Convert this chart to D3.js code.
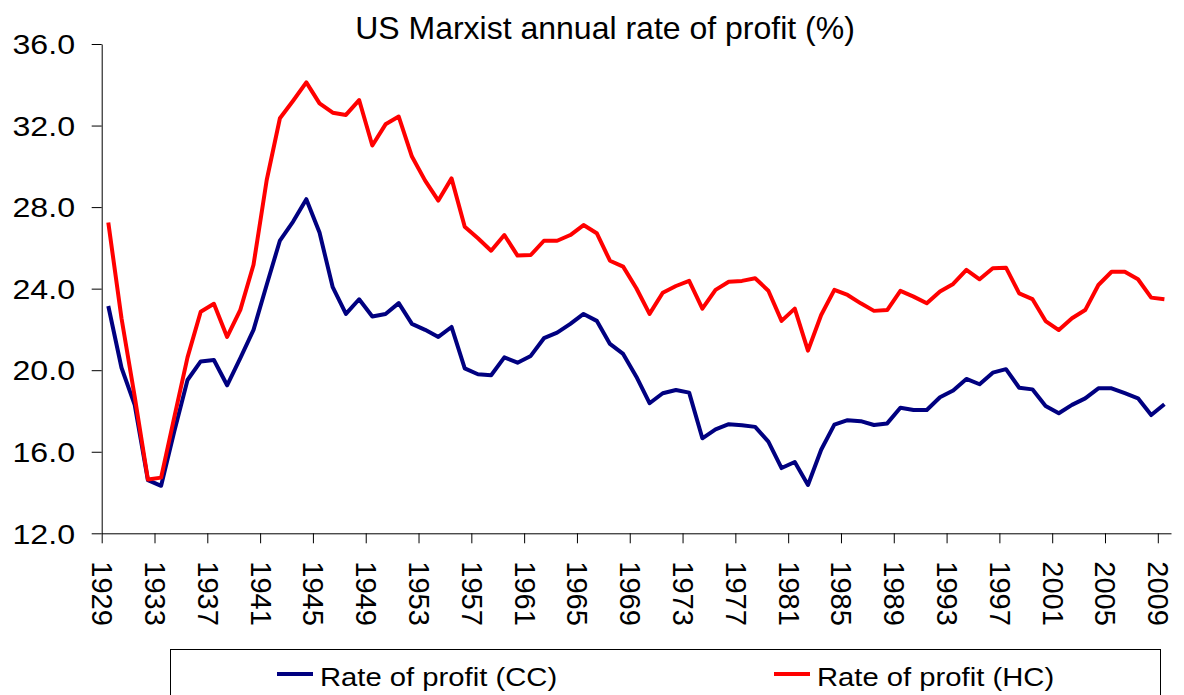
<!DOCTYPE html>
<html>
<head>
<meta charset="utf-8">
<script src="https://cdn.jsdelivr.net/npm/d3@7"></script>
<style>
  body { margin: 0; background: #fff; }
  text { font-family: "Liberation Sans", Arial, sans-serif; fill: #000; }
</style>
</head>
<body>
<script>
// categories and tick labels
var years = d3.range(1929, 2010);
var tickYears = d3.range(1929, 2010, 4);
var yTicks = [12, 16, 20, 24, 28, 32, 36];
var seriesNames = ["Rate of profit (CC)", "Rate of profit (HC)"];
var seriesColors = ["#000080", "#ff0000"];

// series values, 1929 - 2009
var profitCC = [
    23.15, 20.12, 18.30, 14.61, 14.33, 17.00, 19.52, 20.43, 20.50, 19.26,
    20.59, 21.98, 24.19, 26.36, 27.29, 28.39, 26.75, 24.07, 22.76, 23.48,
    22.63, 22.76, 23.29, 22.27, 21.98, 21.63, 22.12, 20.09, 19.80, 19.75,
    20.63, 20.37, 20.70, 21.57, 21.84, 22.27, 22.76, 22.42, 21.29, 20.80,
    19.68, 18.38, 18.87, 19.03, 18.90, 16.66, 17.10, 17.35, 17.30, 17.22,
    16.50, 15.20, 15.50, 14.37, 16.10, 17.33, 17.55, 17.50, 17.31, 17.39,
    18.16, 18.05, 18.05, 18.67, 19.00, 19.57, 19.31, 19.88, 20.05, 19.14,
    19.06, 18.25, 17.89, 18.30, 18.62, 19.11, 19.11, 18.87, 18.62, 17.80,
    18.33
];
var profitHC = [
    27.24, 22.55, 18.70, 14.64, 14.73, 17.70, 20.63, 22.87, 23.26, 21.63,
    22.96, 25.17, 29.33, 32.36, 33.22, 34.12, 33.09, 32.63, 32.52, 33.25,
    31.02, 32.06, 32.44, 30.48, 29.30, 28.32, 29.41, 27.04, 26.47, 25.86,
    26.63, 25.62, 25.65, 26.35, 26.35, 26.63, 27.12, 26.72, 25.37, 25.08,
    24.02, 22.76, 23.80, 24.13, 24.38, 23.02, 23.94, 24.34, 24.38, 24.51,
    23.90, 22.42, 23.02, 20.96, 22.71, 23.94, 23.69, 23.28, 22.91, 22.95,
    23.89, 23.61, 23.28, 23.86, 24.23, 24.92, 24.46, 25.00, 25.03, 23.77,
    23.49, 22.41, 21.97, 22.55, 22.95, 24.18, 24.83, 24.83, 24.46, 23.56,
    23.48
];

var svgWidth = 1184;
var svgHeight = 695;
var plotLeft = 101.7, plotRight = 1171, plotTop = 44, plotBottom = 533.3;
var stretch = 1.19; // the original picture is a bit wider than tall

var svg = d3.select("body")
    .append("svg")
    .attr("width", svgWidth)
    .attr("height", svgHeight);

// category edges: a year sits in the middle of its slot
var xScale = d3.scaleLinear()
    .domain([1929, 2010])
    .range([plotLeft, plotRight]);

var yScale = d3.scaleLinear()
    .domain([12, 36])
    .range([plotBottom, plotTop]);

// title
svg.append("text")
    .attr("x", 605)
    .attr("y", 38.5)
    .attr("text-anchor", "middle")
    .style("font-size", "32px")
    .text("US Marxist annual rate of profit (%)");

// y axis
var yAxis = d3.axisLeft(yScale)
    .tickValues(yTicks)
    .tickFormat(d3.format(".1f"))
    .tickSize(10)
    .tickSizeOuter(0);

svg.append("g")
    .attr("transform", `translate(${plotLeft}, 0)`)
    .call(yAxis)
    .call(g => g.selectAll(".tick text")
        .attr("x", -26.7 / stretch)
        .attr("dy", "0.36em")
        .attr("transform", `scale(${stretch},1)`)
        .style("font-size", "27px")
        .style("font-family", "'Liberation Sans', Arial, sans-serif"));

// x axis
var xAxis = d3.axisBottom(xScale)
    .tickValues(tickYears)
    .tickFormat(d3.format("d"))
    .tickSize(10)
    .tickSizeOuter(0);

svg.append("g")
    .attr("transform", `translate(0, ${plotBottom})`)
    .call(xAxis)
    .call(g => g.selectAll(".tick text")
        .attr("y", null)
        .attr("dy", null)
        .attr("text-anchor", "start")
        .attr("dominant-baseline", "central")
        .attr("transform", "translate(0,28) rotate(90)")
        .style("font-size", "29px")
        .style("font-family", "'Liberation Sans', Arial, sans-serif"));

// lines
var line = d3.line()
    .x((d, i) => xScale(years[i] + 0.5))
    .y(d => yScale(d));

[profitCC, profitHC].forEach(function (vals, k) {
    svg.append("path")
        .datum(vals)
        .attr("fill", "none")
        .attr("stroke", seriesColors[k])
        .attr("stroke-width", 4)
        .attr("stroke-linejoin", "round")
        .attr("d", line);
});

// legend
svg.append("rect")
    .attr("x", 170.5)
    .attr("y", 649.5)
    .attr("width", 990)
    .attr("height", 80)
    .attr("fill", "none")
    .attr("stroke", "#000")
    .attr("stroke-width", 1);

var legendX = [277, 774];
seriesNames.forEach(function (name, k) {
    var g = svg.append("g").attr("transform", `translate(${legendX[k]}, 674)`);
    g.append("line")
        .attr("x1", 0).attr("x2", 36)
        .attr("stroke", seriesColors[k])
        .attr("stroke-width", 4);
    g.append("text")
        .attr("transform", `translate(43, 12) scale(${stretch - 0.02},1)`)
        .style("font-size", "25px")
        .text(name);
});
</script>
</body>
</html>
